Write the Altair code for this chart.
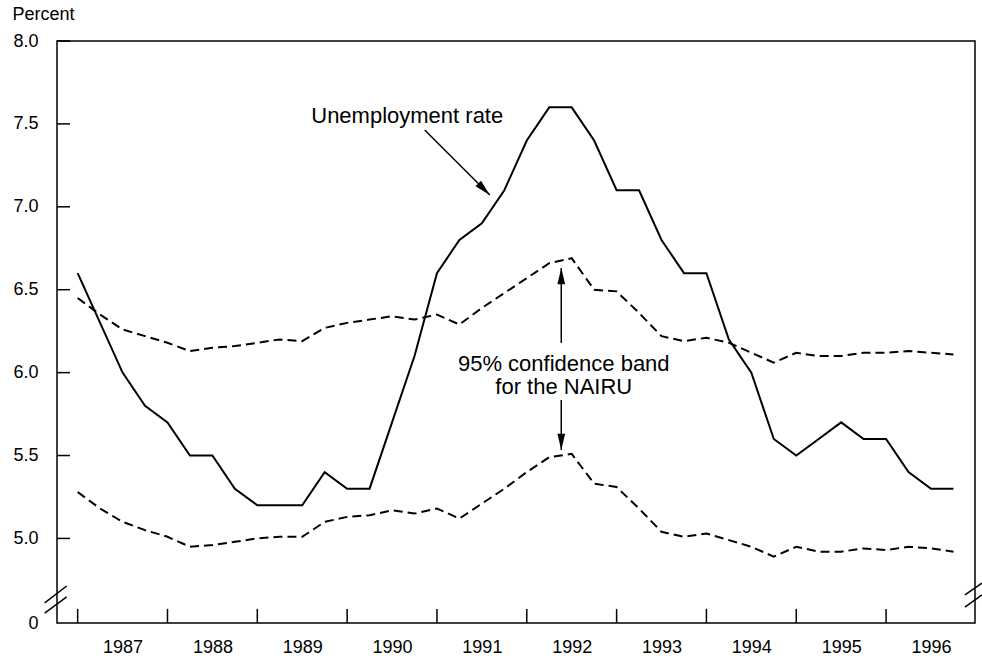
import altair as alt
import pandas as pd

# Quarterly observations, 1987Q1 through 1996Q4
years = list(range(1987, 1997))
unemployment = [6.6, 6.3, 6.0, 5.8, 5.7, 5.5, 5.5, 5.3,
                5.2, 5.2, 5.2, 5.4, 5.3, 5.3, 5.7, 6.1,
                6.6, 6.8, 6.9, 7.1, 7.4, 7.6, 7.6, 7.4,
                7.1, 7.1, 6.8, 6.6, 6.6, 6.2, 6.0, 5.6,
                5.5, 5.6, 5.7, 5.6, 5.6, 5.4, 5.3, 5.3]
upper_band = [6.45, 6.35, 6.26, 6.22, 6.18, 6.13, 6.15, 6.16,
              6.18, 6.20, 6.19, 6.27, 6.30, 6.32, 6.34, 6.32,
              6.35, 6.29, 6.39, 6.48, 6.57, 6.66, 6.69, 6.50,
              6.49, 6.36, 6.22, 6.19, 6.21, 6.18, 6.12, 6.06,
              6.12, 6.10, 6.10, 6.12, 6.12, 6.13, 6.12, 6.11]
lower_band = [5.28, 5.18, 5.10, 5.05, 5.01, 4.95, 4.96, 4.98,
              5.00, 5.01, 5.01, 5.10, 5.13, 5.14, 5.17, 5.15,
              5.18, 5.12, 5.21, 5.30, 5.40, 5.49, 5.51, 5.33,
              5.31, 5.18, 5.04, 5.01, 5.03, 4.99, 4.95, 4.89,
              4.95, 4.92, 4.92, 4.94, 4.93, 4.95, 4.94, 4.92]

x_domain = [1986.77, 1996.99]
y_domain = [4.49, 8.0]
y_tick_values = [5.0, 5.5, 6.0, 6.5, 7.0, 7.5, 8.0]

FONT = "Liberation Sans, Arial, Helvetica, sans-serif"

t = [y + q / 4 for y in years for q in range(4)]
df = pd.DataFrame({"t": t, "unemp": unemployment,
                   "upper": upper_band, "lower": lower_band})

xs = alt.Scale(domain=x_domain, nice=False, zero=False)
ys = alt.Scale(domain=y_domain, nice=False, zero=False)

x_axis = alt.Axis(values=[y + 0.5 for y in years],
                  labelExpr="'' + floor(datum.value)",
                  title=None, ticks=False, tickSize=0, domain=False, grid=False,
                  labelFontSize=18, labelFont=FONT, labelColor="black",
                  labelPadding=15, labelFlush=False, labelOverlap=False)
y_axis = alt.Axis(values=[y_domain[0]] + y_tick_values,
                  labelExpr="datum.value < 4.6 ? '0' : format(datum.value, '.1f')",
                  title="Percent", titleAngle=0, titleAlign="left",
                  titleBaseline="alphabetic", titleX=-45, titleY=-22,
                  titleFontSize=18, titleFont=FONT, titleFontWeight="normal",
                  titleColor="black",
                  ticks=False, tickSize=0, domain=False, grid=False,
                  labelFontSize=18, labelFont=FONT, labelColor="black",
                  labelPadding=19, labelFlush=False, labelOverlap=False)


def X(field):
    return alt.X(field, type="quantitative", scale=xs, axis=x_axis)


def Y(field):
    return alt.Y(field, type="quantitative", scale=ys, axis=y_axis)


unemp_line = alt.Chart(df).mark_line(color="black", strokeWidth=2).encode(
    x=X("t"), y=Y("unemp"),
)
upper_line = alt.Chart(df).mark_line(color="black", strokeWidth=2, strokeDash=[9, 5]).encode(
    x=X("t"), y=Y("upper"),
)
lower_line = alt.Chart(df).mark_line(color="black", strokeWidth=2, strokeDash=[9, 5]).encode(
    x=X("t"), y=Y("lower"),
)

# Inward-pointing tick marks on both axes
ytick_df = pd.DataFrame({"y": y_tick_values,
                         "x0": [x_domain[0]] * len(y_tick_values),
                         "x1": [x_domain[0] + 0.145] * len(y_tick_values)})
xtick_df = pd.DataFrame({"x": years,
                         "y0": [y_domain[0]] * len(years),
                         "y1": [y_domain[0] + 0.085] * len(years)})
yticks = alt.Chart(ytick_df).mark_rule(color="black", strokeWidth=1.5).encode(
    x=X("x0"), x2="x1:Q", y=Y("y"),
)
xticks = alt.Chart(xtick_df).mark_rule(color="black", strokeWidth=1.5).encode(
    x=X("x"), y=Y("y0"), y2="y1:Q",
)

# Axis-break slashes on the left and right edges
break_df = pd.DataFrame({
    "xa": [1986.633, 1986.633, 1996.878, 1996.878],
    "xb": [1986.878, 1986.878, 1997.067, 1997.067],
    "ya": [4.611, 4.550, 4.659, 4.586],
    "yb": [4.713, 4.647, 4.731, 4.659],
})
breaks = alt.Chart(break_df).mark_rule(color="black", strokeWidth=1.5).encode(
    x=X("xa"), x2="xb:Q", y=Y("ya"), y2="yb:Q",
)

# Annotation labels
label_df = pd.DataFrame({
    "x": [1990.669, 1992.412, 1992.412],
    "y": [7.505, 6.010, 5.871],
    "text": ["Unemployment rate", "95% confidence band", "for the NAIRU"],
})
labels = alt.Chart(label_df).mark_text(
    font=FONT, fontSize=22, color="black", align="center", baseline="alphabetic"
).encode(
    x=X("x"), y=Y("y"), text="text:N",
)

# Arrow shafts and heads
arrow_df = pd.DataFrame({
    "x0": [1990.864, 1992.384, 1992.384],
    "y0": [7.463, 6.179, 5.835],
    "x1": [1991.588, 1992.384, 1992.384],
    "y1": [7.071, 6.631, 5.533],
    "angle": [135, 0, 180],
})
shafts = alt.Chart(arrow_df).mark_rule(color="black", strokeWidth=1.5).encode(
    x=X("x0"), x2="x1:Q", y=Y("y0"), y2="y1:Q",
)
heads = alt.Chart(arrow_df).mark_point(
    shape="M0,0L-0.5,2.1L0.5,2.1Z", filled=True, fill="black",
    strokeWidth=0, opacity=1, size=240
).encode(
    x=X("x1"), y=Y("y1"),
    angle=alt.Angle("angle:Q", scale=None),
)

chart = alt.layer(
    unemp_line, upper_line, lower_line, yticks, xticks, breaks,
    shafts, heads, labels
).properties(
    width=918, height=582,
    autosize=alt.AutoSizeParams(type="none"),
    padding={"left": 57, "top": 41, "right": 7, "bottom": 33},
    background="white",
).configure_view(
    stroke="black", strokeWidth=1.5
)

chart.save("out.html", embed_options={"renderer": "svg", "actions": False})
